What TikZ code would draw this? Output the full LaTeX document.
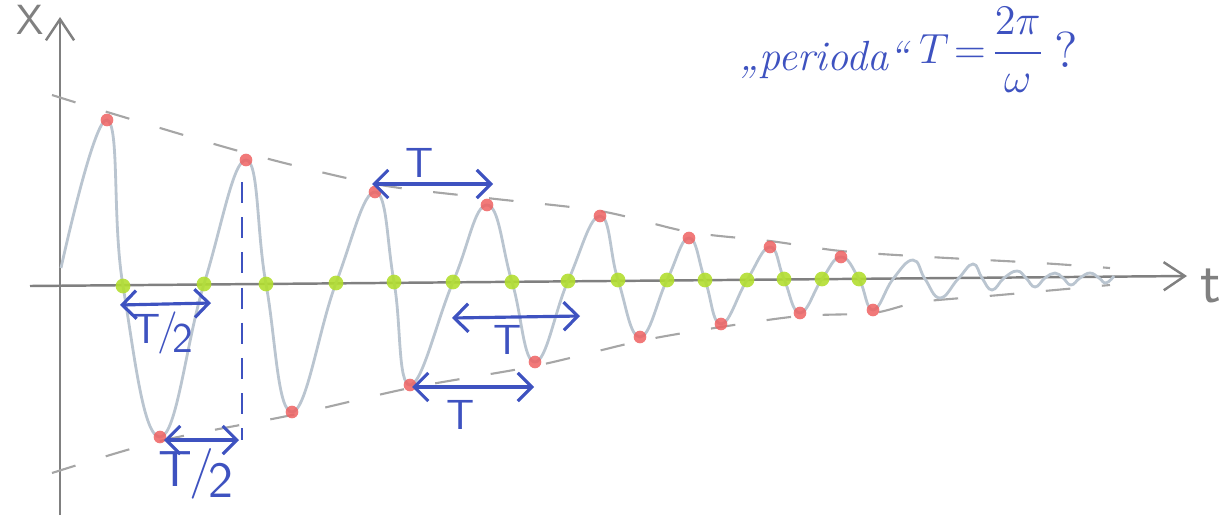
\documentclass[tikz,border=0pt]{standalone}
\usepackage{amsmath}
\usepackage{tikz}
\usetikzlibrary{arrows.meta}
\definecolor{pencil}{RGB}{128,128,128}
\definecolor{curvegray}{RGB}{186,197,208}
\definecolor{ink}{RGB}{62,82,192}
\definecolor{dotred}{RGB}{238,98,98}
\definecolor{dotgreen}{RGB}{178,222,48}
\tikzset{
  axisline/.style={pencil, line width=0.7pt, -{Straight Barb[length=6pt,width=8pt]}},
  envelope/.style={pencil!70, line width=0.6pt, dash pattern=on 7pt off 9pt},
  swing/.style={curvegray, line width=0.8pt},
  inkarrow/.style={ink, line width=0.9pt, {Straight Barb[length=4pt,width=8pt]}-{Straight Barb[length=4pt,width=8pt]}},
  inklabel/.style={ink, font=\sffamily},
  reddot/.style={circle, fill=dotred, fill opacity=0.85, inner sep=0pt, minimum size=3.6pt},
  greendot/.style={circle, fill=dotgreen, fill opacity=0.9, inner sep=0pt, minimum size=4.2pt}
}
\newcommand{\halfT}{T\kern-1pt/\kern-1.5pt\raisebox{-0.5ex}{2}}
\begin{document}
\begin{tikzpicture}[x=0.01cm, y=-0.01cm]
\useasboundingbox (0,0) rectangle (1227,518);

% Axes
\draw[axisline] (60,515) -- (60,17);
\draw[axisline] (30,286) -- (1187,276);
\node[pencil, font=\large\sffamily] (xlab) at (30,20) {X};
\node[pencil, font=\LARGE\sffamily] (tlab) at (1211,286) {t};

% Envelope
\draw[envelope] plot[smooth] coordinates {(52,95) (107,112) (246,153) (375,184) (487,198) (600,211) (689,232) (770,241) (841,251) (930,257) (1040,263) (1110,268)};
\draw[envelope] plot[smooth] coordinates {(52,473) (160,441) (292,415) (410,388) (535,366) (640,341) (721,327) (800,316) (873,313) (920,302) (1000,295) (1110,285)};

% Damped oscillation
\draw[swing] plot[smooth, tension=0.75] coordinates {(61,268) (107,120) (123,286) (160,437) (204,284) (246,160) (266,284) (292,412) (336,283) (375,192) (394,282) (410,385) (453,282) (487,205) (512,282) (535,362) (568,281) (600,216) (618,280) (640,337) (667,280) (689,238) (705,280) (721,324) (747,280) (770,247) (784,279) (800,313) (822,279) (841,257) (859,279) (873,310) (893,279) (913,260) (925,279) (940,298) (958,279) (973,264) (982,278) (992,290) (1004,278) (1017,271) (1026,278) (1035,287) (1045,278) (1055,273) (1063,278) (1071,285) (1080,278) (1090,273) (1099,278) (1106,283) (1114,276)};

% Zero crossings
\foreach \x/\y [count=\i] in {123/286, 204/284, 266/284, 336/283, 394/282, 453/282, 512/282, 568/281, 618/280, 667/280, 705/280, 747/280, 784/279, 822/279, 859/279}
  \node[greendot] (z\i) at (\x,\y) {};

% Extremes
\foreach \x/\y [count=\i] in {107/120, 160/437, 246/160, 292/412, 375/192, 410/385, 487/205, 535/362, 600/216, 640/337, 689/238, 721/324, 770/247, 800/313, 841/257, 873/310}
  \node[reddot] (e\i) at (\x,\y) {};

% Half periods
\coordinate (hua) at (120,305);
\coordinate (hub) at (211,303);
\coordinate (hla) at (164,440);
\coordinate (hlb) at (239,440);
\draw[inkarrow] (hua) -- (hub);
\draw[inkarrow] (hla) -- (hlb);
\coordinate (vtop) at (242,182);
\coordinate (vbot) at (242,440);
\draw[ink, line width=0.7pt, dash pattern=on 6pt off 4pt] (vtop) -- (vbot);
\node[inklabel, font=\large\sffamily] (hulab) at (163,333) {\halfT};
\node[inklabel, font=\Large\sffamily] (hllab) at (196,474) {\halfT};

% Full periods
\coordinate (pta) at (372,184);
\coordinate (ptb) at (493,184);
\coordinate (pma) at (452,318);
\coordinate (pmb) at (580,316);
\coordinate (pla) at (412,387);
\coordinate (plb) at (534,387);
\draw[inkarrow] (pta) -- (ptb);
\draw[inkarrow] (pma) -- (pmb);
\draw[inkarrow] (pla) -- (plb);
\node[inklabel, font=\large\sffamily] (ptlab) at (420,163) {T};
\node[inklabel, font=\large\sffamily] (pmlab) at (508,340) {T};
\node[inklabel, font=\large\sffamily] (pllab) at (461,415) {T};

% Question
\node[ink, font=\large\itshape] (qword) at (824,60) {„perioda“};
\node[ink, font=\large] (qform) at (982,50) {$T\!=\!\dfrac{2\pi}{\omega}$};
\node[ink, font=\Large] (qmark) at (1066,50) {?};
\end{tikzpicture}
\end{document}
